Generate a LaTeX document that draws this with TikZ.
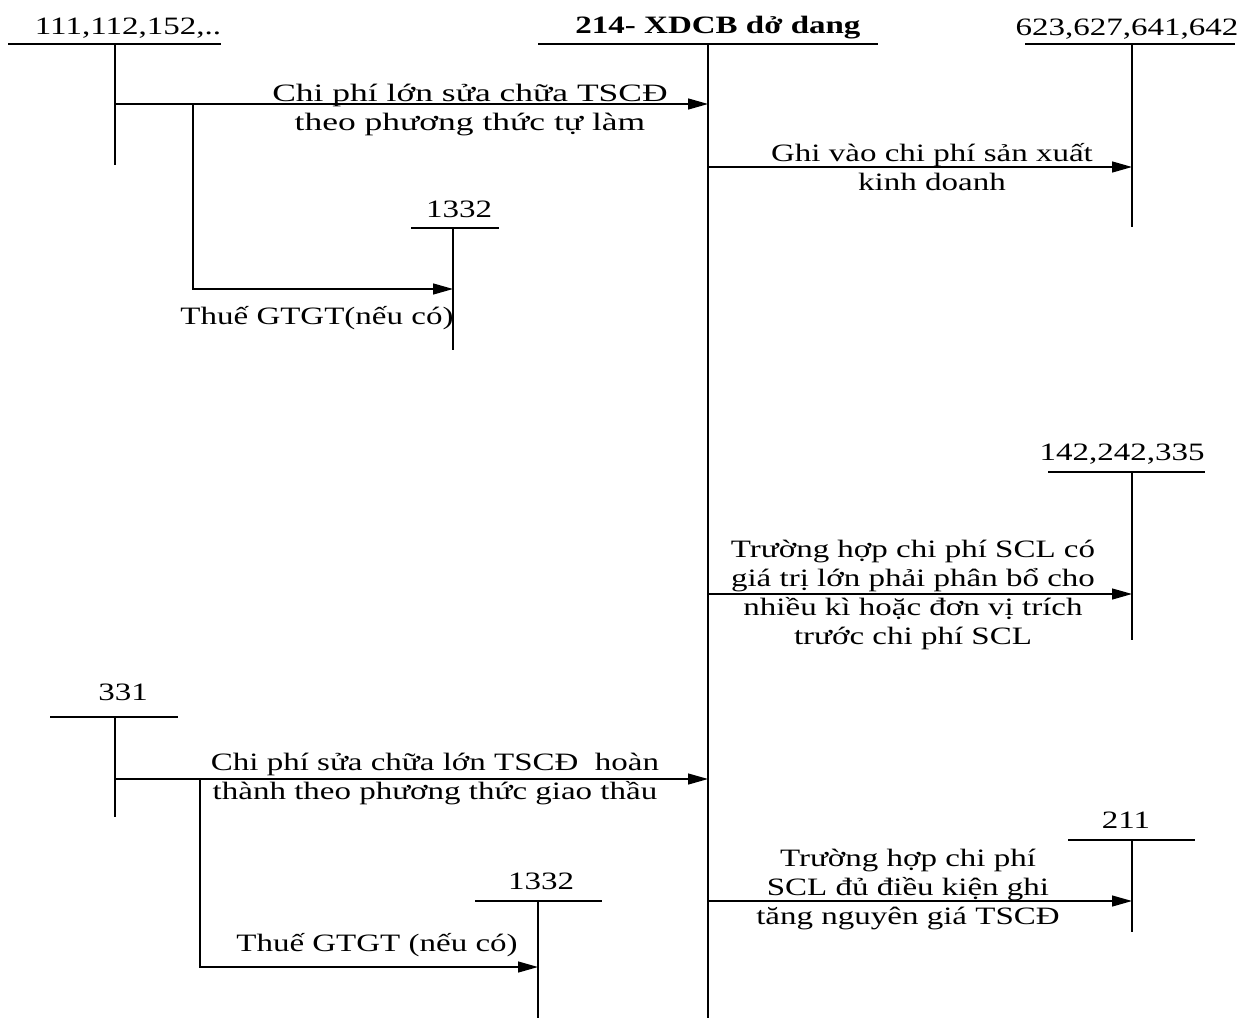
\documentclass[tikz,border=0pt]{standalone}
\usepackage{fontspec}
\setmainfont{Liberation Serif}[FakeStretch=1.32]
\newfontfamily\wideserif{Liberation Serif}[FakeStretch=1.42]
\usetikzlibrary{arrows.meta}
\begin{document}
\begin{tikzpicture}[x=1pt,y=-1pt,
  ln/.style={line width=1.3pt},
  arr/.style={line width=1.3pt,-{Triangle[length=20pt,width=11pt]}},
  lbl/.style={font=\fontsize{25}{29}\selectfont, inner sep=0pt, anchor=base},
  txt/.style={font=\fontsize{25}{29}\selectfont, align=center, inner sep=0pt}]
\useasboundingbox (0,0) rectangle (1242,1018);

% account labels
\node[lbl] (n111) at (128,34) {111,112,152,..};
\node[lbl,font=\fontsize{25}{29}\selectfont\bfseries] (n214) at (718,33) {214- XDCB dở dang};
\node[lbl] (n623) at (1127,35) {623,627,641,642};
\node[lbl] (n1332a) at (459,217) {1332};
\node[lbl] (n142) at (1122,460) {142,242,335};
\node[lbl] (n331) at (123,700) {331};
\node[lbl] (n1332b) at (541,889) {1332};
\node[lbl] (n211) at (1126,828) {211};

% T-account coordinates
\coordinate (a111L) at (8,44);   \coordinate (a111R) at (221,44);
\coordinate (a111T) at (115,44); \coordinate (a111B) at (115,165);
\coordinate (a214L) at (538,44); \coordinate (a214R) at (878,44);
\coordinate (a214T) at (708,44); \coordinate (a214B) at (708,1018);
\coordinate (a623L) at (1025,44); \coordinate (a623R) at (1235,44);
\coordinate (a623T) at (1132,44); \coordinate (a623B) at (1132,227);
\coordinate (a1332aL) at (411,228); \coordinate (a1332aR) at (499,228);
\coordinate (a1332aT) at (453,228); \coordinate (a1332aB) at (453,350);
\coordinate (a142L) at (1048,472); \coordinate (a142R) at (1205,472);
\coordinate (a142T) at (1132,472); \coordinate (a142B) at (1132,640);
\coordinate (a331L) at (50,717); \coordinate (a331R) at (178,717);
\coordinate (a331T) at (115,717); \coordinate (a331B) at (115,817);
\coordinate (a1332bL) at (475,901); \coordinate (a1332bR) at (602,901);
\coordinate (a1332bT) at (538,901); \coordinate (a1332bB) at (538,1018);
\coordinate (a211L) at (1068,840); \coordinate (a211R) at (1195,840);
\coordinate (a211T) at (1132,840); \coordinate (a211B) at (1132,932);

\foreach \a in {a111,a214,a623,a1332a,a142,a331,a1332b,a211}{
  \draw[ln] (\a L) -- (\a R);
  \draw[ln] (\a T) -- (\a B);
}

% arrow endpoints
\coordinate (s1) at (115,104); \coordinate (e1) at (708,104);
\coordinate (b1) at (193,104); \coordinate (e2) at (453,289);
\coordinate (s3) at (708,167); \coordinate (e3) at (1132,167);
\coordinate (s4) at (708,594); \coordinate (e4) at (1132,594);
\coordinate (s5) at (115,779); \coordinate (e5) at (708,779);
\coordinate (b5) at (200,779); \coordinate (e6) at (538,967);
\coordinate (s7) at (708,901); \coordinate (e7) at (1132,901);

\draw[arr] (s1) -- (e1);
\draw[arr] (b1) |- (e2);
\draw[arr] (s3) -- (e3);
\draw[arr] (s4) -- (e4);
\draw[arr] (s5) -- (e5);
\draw[arr] (b5) |- (e6);
\draw[arr] (s7) -- (e7);

% texts
\node[txt,font=\fontsize{25}{29}\selectfont\wideserif] (tA) at (470,110) {Chi phí lớn sửa chữa TSCĐ\\theo phương thức tự làm};
\node[txt] (tB) at (932,167) {Ghi vào chi phí sản xuất\\kinh doanh};
\node[txt] (tC) at (317,318) {Thuế GTGT(nếu có)};
\node[txt] (tD) at (913,595) {Trường hợp chi phí SCL có\\giá trị lớn phải phân bổ cho\\nhiều kì hoặc đơn vị trích\\trước chi phí SCL};
\node[txt] (tE) at (435,779) {Chi phí sửa chữa lớn TSCĐ\ \ hoàn\\thành theo phương thức giao thầu};
\node[txt] (tF) at (377,945) {Thuế GTGT (nếu có)};
\node[txt] (tG) at (908,889) {Trường hợp chi phí\\SCL đủ điều kiện ghi\\tăng nguyên giá TSCĐ};
\end{tikzpicture}
\end{document}
